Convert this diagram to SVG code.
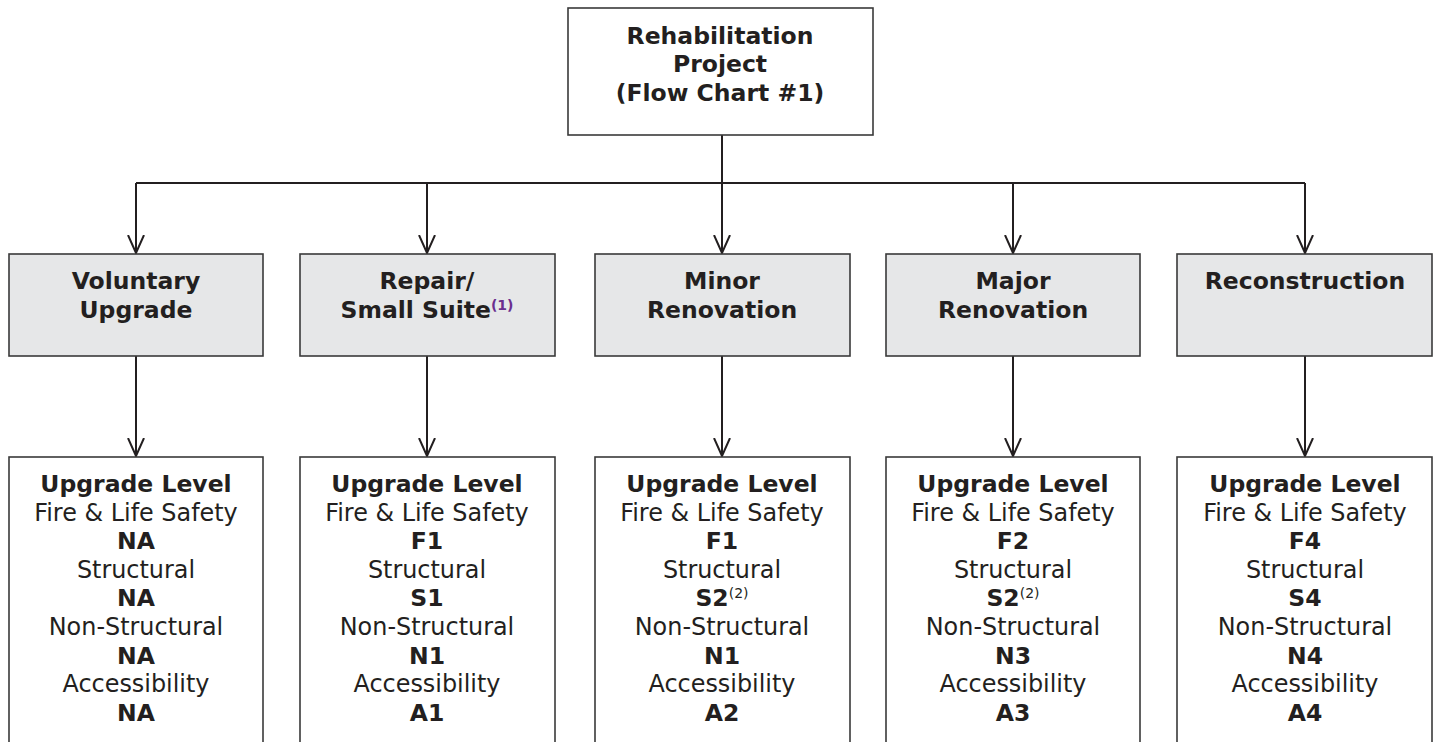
<svg xmlns="http://www.w3.org/2000/svg" width="1435" height="742" viewBox="0 0 1435 742">
<style>
text{font-family:"DejaVu Sans","Verdana",sans-serif;font-size:23.9px;fill:#231f20;text-anchor:middle}
.b{font-weight:bold;font-size:23.5px}
.box{fill:#fff;stroke:#3a3a3a;stroke-width:1.6}
.gray{fill:#e6e7e8;stroke:#3a3a3a;stroke-width:1.6}
.c{fill:none;stroke:#231f20;stroke-width:2}
.sup{font-size:14px}
.p{fill:#6b2f8f;font-weight:bold}
</style>
<defs>
<marker id="ah" markerUnits="userSpaceOnUse" markerWidth="20" markerHeight="24" refX="18" refY="9" orient="auto" viewBox="0 0 20 18">
<path d="M0,1 L18,9 L0,17" fill="none" stroke="#231f20" stroke-width="2"/>
</marker>
</defs>
<rect width="1435" height="742" fill="#fff"/>
<g id="connectors">
<line class="c" x1="722" y1="135" x2="722" y2="183"/>
<line class="c" x1="136" y1="183" x2="1305" y2="183"/>
<line class="c" x1="136" y1="183" x2="136" y2="253" marker-end="url(#ah)"/>
<line class="c" x1="427" y1="183" x2="427" y2="253" marker-end="url(#ah)"/>
<line class="c" x1="722" y1="183" x2="722" y2="253" marker-end="url(#ah)"/>
<line class="c" x1="1013" y1="183" x2="1013" y2="253" marker-end="url(#ah)"/>
<line class="c" x1="1305" y1="183" x2="1305" y2="253" marker-end="url(#ah)"/>
<line class="c" x1="136" y1="356" x2="136" y2="456" marker-end="url(#ah)"/>
<line class="c" x1="427" y1="356" x2="427" y2="456" marker-end="url(#ah)"/>
<line class="c" x1="722" y1="356" x2="722" y2="456" marker-end="url(#ah)"/>
<line class="c" x1="1013" y1="356" x2="1013" y2="456" marker-end="url(#ah)"/>
<line class="c" x1="1305" y1="356" x2="1305" y2="456" marker-end="url(#ah)"/>
</g>
<g id="root">
<rect class="box" x="568" y="8" width="305" height="127"/>
<text class="b" x="720" y="44">Rehabilitation</text>
<text class="b" x="720" y="72">Project</text>
<text class="b" x="720" y="101">(Flow Chart #1)</text>
</g>
<g id="voluntary">
<rect class="gray" x="9" y="254" width="254" height="102"/>
<text class="b" x="136" y="289">Voluntary</text>
<text class="b" x="136" y="318">Upgrade</text>
</g>
<g id="repair">
<rect class="gray" x="300" y="254" width="255" height="102"/>
<text class="b" x="427" y="289">Repair/</text>
<text class="b" x="427" y="318">Small Suite<tspan class="sup p" dy="-8">(1)</tspan></text>
</g>
<g id="minor">
<rect class="gray" x="595" y="254" width="255" height="102"/>
<text class="b" x="722" y="289">Minor</text>
<text class="b" x="722" y="318">Renovation</text>
</g>
<g id="major">
<rect class="gray" x="886" y="254" width="254" height="102"/>
<text class="b" x="1013" y="289">Major</text>
<text class="b" x="1013" y="318">Renovation</text>
</g>
<g id="reconstruction">
<rect class="gray" x="1177" y="254" width="255" height="102"/>
<text class="b" x="1305" y="289">Reconstruction</text>
</g>
<g id="level-voluntary">
<rect class="box" x="9" y="457" width="254" height="300"/>
<text class="b" x="136" y="492">Upgrade Level</text>
<text x="136" y="521">Fire &amp; Life Safety</text>
<text class="b" x="136" y="549">NA</text>
<text x="136" y="578">Structural</text>
<text class="b" x="136" y="606">NA</text>
<text x="136" y="635">Non-Structural</text>
<text class="b" x="136" y="664">NA</text>
<text x="136" y="692">Accessibility</text>
<text class="b" x="136" y="721">NA</text>
</g>
<g id="level-repair">
<rect class="box" x="300" y="457" width="255" height="300"/>
<text class="b" x="427" y="492">Upgrade Level</text>
<text x="427" y="521">Fire &amp; Life Safety</text>
<text class="b" x="427" y="549">F1</text>
<text x="427" y="578">Structural</text>
<text class="b" x="427" y="606">S1</text>
<text x="427" y="635">Non-Structural</text>
<text class="b" x="427" y="664">N1</text>
<text x="427" y="692">Accessibility</text>
<text class="b" x="427" y="721">A1</text>
</g>
<g id="level-minor">
<rect class="box" x="595" y="457" width="255" height="300"/>
<text class="b" x="722" y="492">Upgrade Level</text>
<text x="722" y="521">Fire &amp; Life Safety</text>
<text class="b" x="722" y="549">F1</text>
<text x="722" y="578">Structural</text>
<text x="722" y="606"><tspan class="b">S2</tspan><tspan class="sup" dy="-8">(2)</tspan></text>
<text x="722" y="635">Non-Structural</text>
<text class="b" x="722" y="664">N1</text>
<text x="722" y="692">Accessibility</text>
<text class="b" x="722" y="721">A2</text>
</g>
<g id="level-major">
<rect class="box" x="886" y="457" width="254" height="300"/>
<text class="b" x="1013" y="492">Upgrade Level</text>
<text x="1013" y="521">Fire &amp; Life Safety</text>
<text class="b" x="1013" y="549">F2</text>
<text x="1013" y="578">Structural</text>
<text x="1013" y="606"><tspan class="b">S2</tspan><tspan class="sup" dy="-8">(2)</tspan></text>
<text x="1013" y="635">Non-Structural</text>
<text class="b" x="1013" y="664">N3</text>
<text x="1013" y="692">Accessibility</text>
<text class="b" x="1013" y="721">A3</text>
</g>
<g id="level-reconstruction">
<rect class="box" x="1177" y="457" width="255" height="300"/>
<text class="b" x="1305" y="492">Upgrade Level</text>
<text x="1305" y="521">Fire &amp; Life Safety</text>
<text class="b" x="1305" y="549">F4</text>
<text x="1305" y="578">Structural</text>
<text class="b" x="1305" y="606">S4</text>
<text x="1305" y="635">Non-Structural</text>
<text class="b" x="1305" y="664">N4</text>
<text x="1305" y="692">Accessibility</text>
<text class="b" x="1305" y="721">A4</text>
</g>
</svg>
